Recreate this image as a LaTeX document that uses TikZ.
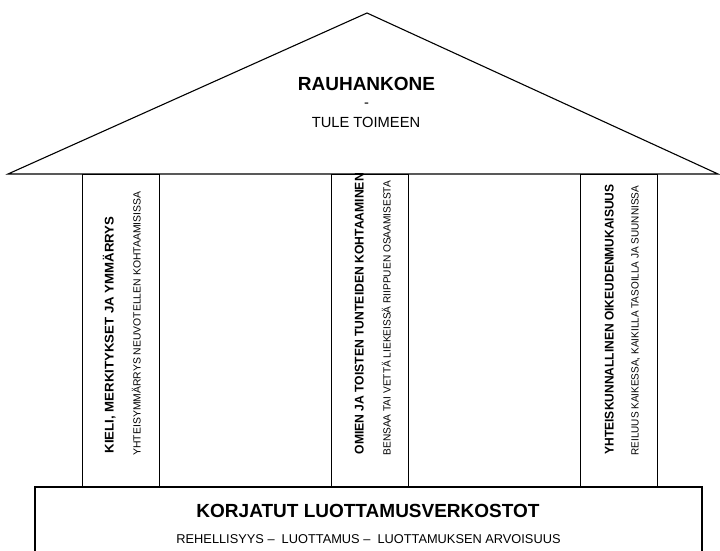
\documentclass[tikz,border=0pt]{standalone}
\usepackage{fontspec}
\setmainfont{Liberation Sans}
\begin{document}
\begin{tikzpicture}[x=1pt,y=-1pt, line width=1.1pt,
  pillar/.style={draw, minimum width=77pt, minimum height=313pt, anchor=north west, inner sep=0pt},
  ptitle/.style={rotate=90, anchor=base west, font=\fontsize{12.6}{15}\selectfont\bfseries, inner sep=0pt},
  psub/.style={rotate=90, anchor=base west, font=\fontsize{10.4}{12}\selectfont, inner sep=0pt},
  bigtitle/.style={anchor=base, inner sep=0pt, font=\fontsize{19}{22}\selectfont\bfseries},
  subline/.style={anchor=base, inner sep=0pt, font=\fontsize{14.7}{17}\selectfont}]
\useasboundingbox (0,0) rectangle (720,551);
% roof
\draw[line join=miter] (8,174) -- (367,13) -- (718,174) -- cycle;
% pillars
\node[pillar] (p1) at (82,174) {};
\node[pillar] (p2) at (331,174) {};
\node[pillar] (p3) at (580,174) {};
% base
\draw (35,552) -- (35,487) -- (702,487) -- (702,552);
% roof texts
\node[bigtitle] (rt) at (366.5,90) {RAUHANKONE};
\node[subline] (rd) at (366.5,107) {-};
\node[subline] (rs) at (366,127) {TULE TOIMEEN};
% pillar texts
\node[ptitle] (t1) at (113.5,454) {\scalebox{1.05}[1]{KIELI, MERKITYKSET JA YMMÄRRYS}};
\node[psub] (s1) at (140.7,456) {YHTEISYMMÄRRYS NEUVOTELLEN KOHTAAMISISSA};
\node[ptitle] (t2) at (363.7,455) {\scalebox{0.965}[1]{OMIEN JA TOISTEN TUNTEIDEN KOHTAAMINEN}};
\node[psub] (s2) at (390.7,456) {\scalebox{0.975}[1]{BENSAA TAI VETTÄ LIEKEISSÄ RIIPPUEN OSAAMISESTA}};
\node[ptitle] (t3) at (613.7,455) {\scalebox{0.955}[1]{YHTEISKUNNALLINEN OIKEUDENMUKAISUUS}};
\node[psub] (s3) at (638.7,456) {\scalebox{0.96}[1]{REILUUS KAIKESSA, KAIKILLA TASOILLA JA SUUNNISSA}};
% base texts
\node[bigtitle] (bt) at (368,517) {KORJATUT LUOTTAMUSVERKOSTOT};
\node[anchor=base, inner sep=0pt, font=\fontsize{12.8}{15}\selectfont] (bs) at (368.5,543) {REHELLISYYS –\ \ LUOTTAMUS –\ \ LUOTTAMUKSEN ARVOISUUS};
\end{tikzpicture}
\end{document}
